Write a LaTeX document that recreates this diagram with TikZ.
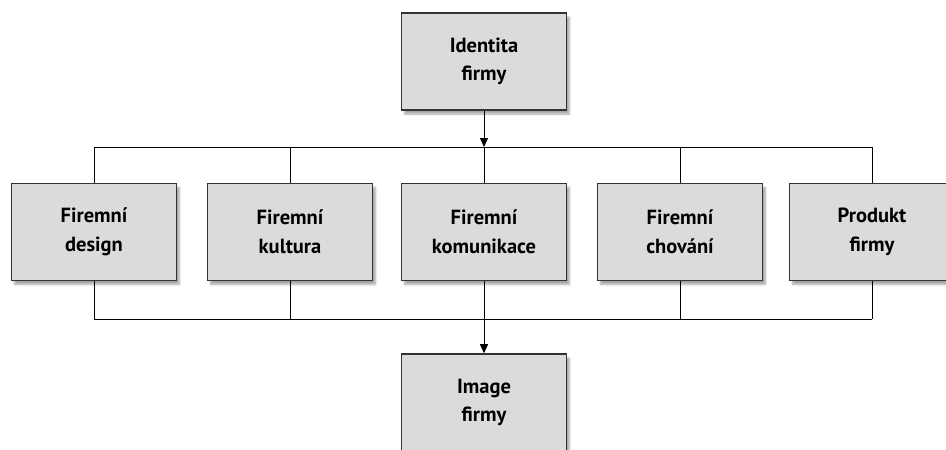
\documentclass[tikz,border=0pt]{standalone}
\usepackage{fontspec}
\setmainfont{PT Sans}
\usetikzlibrary{arrows.meta,shadows.blur}
\begin{document}
\begin{tikzpicture}[x=1pt,y=-1pt,
  box/.style={draw=black!80, line width=1.6pt, fill=black!14,
    minimum width=165pt, minimum height=97pt, inner sep=0pt,
    align=center, font=\bfseries\fontsize{20.5}{28.5}\selectfont,
    blur shadow={shadow xshift=3pt, shadow yshift=-4pt, shadow blur steps=8, shadow opacity=35}},
  wire/.style={draw=black, line width=0.9pt},
  arr/.style={wire, -{Triangle[length=9pt,width=8pt]}}]
\useasboundingbox (0,0) rectangle (946,450);

% source and result boxes
\node[box] (id) at (484,61.5) {Identita\\firmy};
\node[box] (img) at (484,402.5) {Image\\firmy};

% the five components
\node[box] (des) at (94,232)  {Firemní\\design};
\node[box] (kul) at (290,232) {Firemní\\kultura};
\node[box] (kom) at (484,232) {Firemní\\komunikace};
\node[box] (cho) at (680,232) {Firemní\\chování};
\node[box] (pro) at (872,232) {Produkt\\firmy};

% distribution bus above and collection bus below
\coordinate (tl) at (94,147);
\coordinate (tr) at (872,147);
\coordinate (tm) at (484,147);
\coordinate (bl) at (94,319);
\coordinate (br) at (872,319);
\coordinate (bm) at (484,319);

\draw[wire] (tl) -- (tr);
\draw[wire] (bl) -- (br);
\draw[arr] (id.south) -- (tm);
\draw[arr] (bm) -- (img.north);

\foreach \n in {des,kul,kom,cho,pro}{
  \draw[wire] (\n.north) -- (\n.north |- tm);
  \draw[wire] (\n.south) -- (\n.south |- bm);
}
\end{tikzpicture}
\end{document}
